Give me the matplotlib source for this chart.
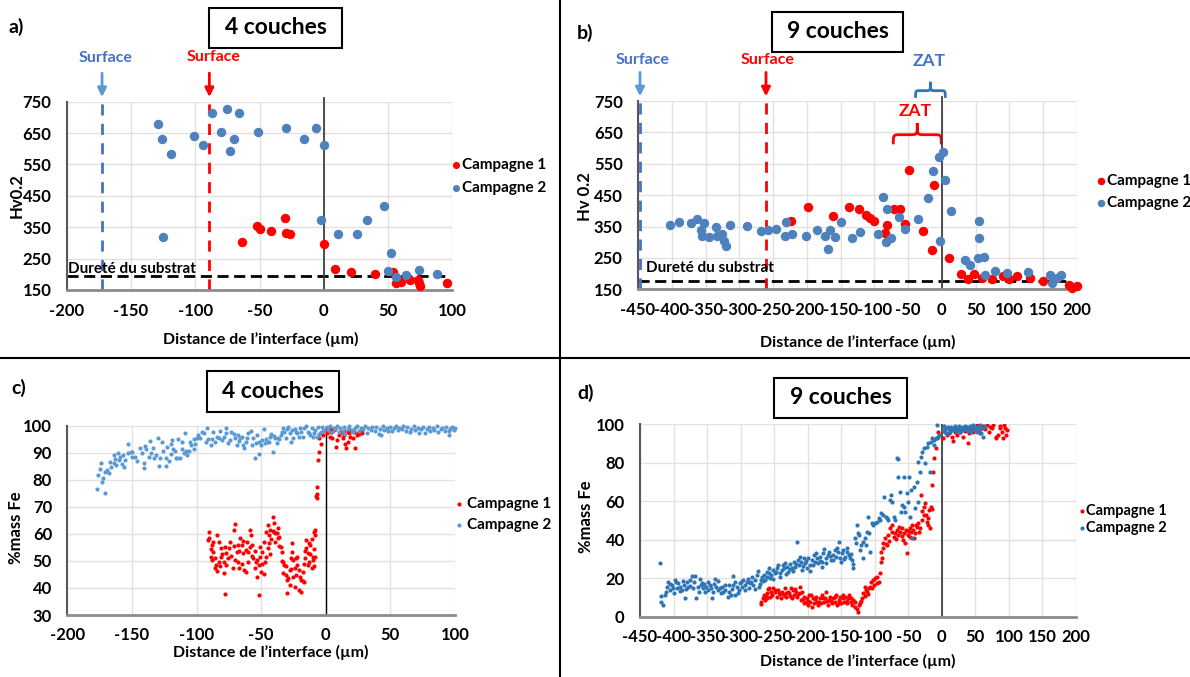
import numpy as np
import matplotlib.pyplot as plt
from matplotlib.patches import Rectangle, PathPatch
from matplotlib.path import Path
from matplotlib.lines import Line2D

plt.rcParams['font.family'] = ['Lato', 'DejaVu Sans']
plt.rcParams['font.weight'] = 'bold'
plt.rcParams['axes.labelweight'] = 'bold'
plt.rcParams['axes.unicode_minus'] = False

RED = '#FF0000'
BLUE_AB = '#4F81BD'
BLUE_C = '#5B9BD5'
BLUE_D = '#2E75B6'

# ---------------- data ----------------
# a) hardness, 4 couches
a_camp1 = np.array([[-64, 302], [-52, 354], [-50, 343], [-41, 338], [-30, 378], [-29, 333], [-26, 327],
                    [0, 296], [9, 216], [21, 208], [40, 201], [54, 208], [56, 171], [60, 177], [67, 182],
                    [73, 182], [74, 171], [75, 163], [96, 173]])
a_camp2 = np.array([[-129, 678], [-126, 631], [-119, 582], [-125, 320], [-101, 641], [-94, 612], [-87, 715],
                    [-75, 726], [-66, 715], [-80, 654], [-73, 593], [-70, 631], [-51, 654], [-29, 665],
                    [-15, 631], [-6, 665], [0, 612], [-2, 373], [11, 328], [26, 328], [34, 373], [47, 417],
                    [52, 267], [50, 212], [56, 192], [64, 198], [74, 214], [88, 200]])

# b) hardness, 9 couches
b_camp1 = np.array([[-224, 369], [-198, 412], [-162, 384], [-138, 412], [-123, 405], [-113, 387], [-107, 377],
                    [-101, 368], [-82, 355], [-71, 405], [-62, 406], [-55, 357], [-49, 529], [-28, 337],
                    [-14, 276], [-11, 481], [11, 249], [28, 198], [39, 182], [47, 199], [59, 185], [74, 182],
                    [90, 193], [99, 182], [111, 193], [131, 185], [150, 177], [188, 164], [193, 153],
                    [200, 161], [-85, 330]])
b_camp2 = np.array([[-403, 355], [-390, 364], [-371, 361], [-362, 373], [-353, 361], [-357, 339], [-355, 320],
                    [-345, 318], [-333, 320], [-334, 348], [-325, 325], [-322, 305], [-319, 289], [-314, 355],
                    [-288, 352], [-268, 337], [-258, 339], [-246, 341], [-231, 366], [-233, 321], [-222, 325],
                    [-201, 321], [-185, 339], [-173, 321], [-166, 339], [-158, 318], [-169, 279], [-149, 364],
                    [-133, 315], [-122, 334], [-94, 325], [-87, 443], [-81, 405], [-83, 302], [-75, 315],
                    [-64, 379], [-55, 341], [-35, 374], [-21, 440], [-13, 528], [-5, 571], [2, 589], [4, 497],
                    [-3, 305], [13, 401], [34, 244], [42, 228], [55, 368], [55, 315], [53, 249], [62, 254],
                    [64, 194], [78, 208], [96, 201], [128, 206], [160, 196], [163, 171], [177, 196], [170, 185]])

# c) %mass Fe, 4 couches
c_camp1 = np.array([
    [-6, 87.3], [-5, 90.4], [-4, 93.1], [-7, 77.4], [-7.5, 74.1], [-6.5, 73.4], [-7, 74.6], [-5, 95.3], [-4, 97.2],
    [1, 97.2], [3, 95.9], [4, 97.8], [5, 95.3], [6, 98.4], [8, 92.2], [9, 94.7], [10, 96.5], [12, 97.8],
    [13, 95.3], [14, 96.5], [15, 93.2], [16, 91.6], [17, 94.1], [18, 97.2], [19, 95.9], [21, 95.3], [22, 97.8],
    [23, 91.6], [24, 96.5], [25, 97.2], [27, 97.8], [28, 98.4], [-1, 98.4], [-2, 96.5], [4, 98.6], [7, 98.8],
    [14, 98.0], [19, 98.4], [26, 96.9], [17, 97.8], [28, 97.2],
    [-90, 60.6], [-90, 58.3], [-91, 57.7], [-88, 55.9], [-87, 53.4], [-89, 51.6], [-88, 50.3], [-85, 48.5],
    [-84, 46.3], [-86, 47.5], [-83, 49.7], [-84, 59.6], [-83, 57.1], [-81, 54.6], [-81, 51.6], [-79, 45.4],
    [-78, 37.9], [-79, 49.7], [-77, 52.8], [-76, 50.9], [-75, 54.6], [-74, 57.1], [-72, 47.2], [-71, 61.4],
    [-70, 63.6], [-69, 53.4], [-68, 49.7], [-67, 47.2], [-66, 58.3], [-65, 55.9], [-64, 52.8], [-63, 46.6],
    [-62, 46.0], [-61, 57.1], [-60, 53.4], [-59, 61.4], [-58, 59.6], [-57, 55.9], [-56, 50.9], [-54, 49.7],
    [-53, 44.2], [-52, 48.5], [-52, 37.4], [-51, 51.6], [-50, 46.0], [-49, 53.4], [-48, 57.1], [-47, 49.7],
    [-46, 60.8], [-45, 63.3], [-45, 54.6], [-44, 59.6], [-43, 61.4], [-41, 66.4], [-40, 63.9], [-40, 60.8],
    [-39, 60.2], [-37, 62.0], [-36, 59.0], [-35, 55.3], [-34, 53.4], [-33, 49.7], [-32, 48.5], [-31, 44.8],
    [-30, 38.0], [-30, 42.9], [-28, 46.6], [-27, 50.9], [-26, 56.5], [-26, 53.4], [-25, 50.3], [-24, 47.2],
    [-23, 44.8], [-22, 48.5], [-22, 51.6], [-21, 39.2], [-19, 38.6], [-19, 42.9], [-18, 46.0], [-17, 42.3],
    [-16, 50.9], [-15, 54.6], [-15, 57.7], [-14, 52.8], [-13, 49.7], [-12, 55.9], [-11, 47.2], [-10, 51.6],
    [-10, 50.3], [-9, 60.8], [-8, 59.6], [-8, 51.6],
    [-89, 54.5], [-87, 57.0], [-86, 51.0], [-82, 48.0], [-80, 52.5], [-78, 55.0], [-77, 48.5], [-73, 52.0],
    [-71, 55.5], [-70, 50.5], [-68, 56.0], [-67, 53.5], [-65, 49.0], [-64, 57.5], [-62, 54.0], [-60, 49.5],
    [-59, 55.0], [-57, 52.0], [-55, 53.5], [-55, 47.5], [-53, 50.5], [-51, 55.0], [-49, 49.0], [-48, 45.0],
    [-46, 51.5], [-44, 56.5], [-43, 52.5], [-42, 58.0], [-41, 61.0], [-39, 57.0], [-38, 60.5], [-37, 58.5],
    [-36, 55.5], [-34, 50.0], [-33, 45.5], [-31, 48.0], [-29, 43.5], [-28, 41.0], [-27, 47.0], [-25, 44.0],
    [-24, 40.5], [-23, 51.0], [-21, 46.5], [-20, 44.0], [-18, 42.5], [-17, 49.0], [-16, 53.5], [-14, 48.5],
    [-13, 56.5], [-12, 52.5], [-11, 58.0], [-9, 54.5], [-9, 48.0], [-8, 61.5]])
c_camp2 = np.array([
    [-177, 76.6], [-171, 75.1], [-173, 79.0], [-176, 81.6], [-174, 86.3], [-172, 80.8], [-171, 83.0],
    [-169, 83.5], [-168, 82.4], [-166, 84.6], [-164, 89.2], [-163, 87.6], [-164, 86.1], [-162, 85.5],
    [-160, 87.2], [-159, 88.5], [-157, 89.2], [-156, 84.8], [-155, 87.3], [-153, 93.2], [-153, 89.8],
    [-151, 90.4], [-150, 90.4], [-150, 88.3], [-148, 88.3], [-144, 91.6], [-142, 89.8], [-141, 84.5],
    [-141, 86.1], [-139, 91.2], [-137, 88.5], [-136, 94.3], [-135, 89.8], [-133, 87.9], [-130, 95.3],
    [-129, 85.1], [-128, 87.9], [-126, 90.6], [-124, 85.1], [-124, 87.9], [-123, 92.0], [-120, 93.1],
    [-120, 89.5], [-119, 94.7], [-117, 90.6], [-116, 88.2], [-115, 88.2], [-113, 88.2], [-111, 94.1],
    [-111, 91.4], [-109, 97.2], [-108, 90.6], [-107, 89.2], [-106, 90.6], [-104, 92.9], [-102, 91.4],
    [-102, 95.1], [-100, 95.3], [-99, 96.5], [-97, 95.6], [-94, 97.2], [-92, 99.3], [-91, 94.9], [-89, 92.9],
    [-88, 94.9], [-86, 94.1], [-84, 95.9], [-83, 95.3], [-80, 94.7], [-77, 97.2], [-77, 99.3], [-76, 93.5],
    [-74, 94.7], [-71, 96.8], [-70, 95.3], [-68, 96.5], [-67, 94.5], [-66, 95.3], [-64, 92.9], [-63, 91.9],
    [-62, 94.1], [-60, 97.2], [-58, 98.0], [-56, 95.3], [-55, 88.2], [-54, 93.5], [-52, 89.5], [-52, 94.1],
    [-50, 92.9], [-49, 94.7], [-48, 98.8], [-47, 93.5], [-45, 93.9], [-44, 94.1], [-43, 95.9], [-41, 90.4],
    [-40, 96.3], [-39, 95.3], [-37, 95.3], [-36, 94.9], [-35, 96.5], [-33, 99.0], [-32, 97.8], [-30, 98.6],
    [-28, 97.2], [-27, 94.1], [-26, 98.3], [-25, 95.3], [-23, 97.8], [-22, 97.2], [-21, 95.9], [-19, 97.8],
    [-17, 99.3], [-15, 100], [-14, 97.8], [-13, 97.2], [-12, 96.5], [-10, 95.9], [-9, 97.2], [-8, 98.3],
    [-6, 99.4], [-5, 96.8], [-4, 97.8], [-1, 98.3],
    [-175, 84.0], [-167, 86.5], [-161, 90.0], [-158, 86.0], [-146, 87.0], [-140, 92.5], [-134, 91.8],
    [-131, 89.0], [-127, 93.8], [-121, 86.8], [-118, 91.5], [-114, 95.0], [-110, 89.8], [-105, 94.0],
    [-101, 93.2], [-96, 97.8], [-93, 93.8], [-87, 97.5], [-82, 98.2], [-79, 95.8], [-73, 97.5], [-69, 93.0],
    [-65, 96.0], [-61, 95.5], [-57, 93.0], [-53, 96.5], [-46, 95.0], [-42, 97.0], [-38, 93.5], [-34, 97.5],
    [-31, 95.5], [-29, 99.5], [-24, 98.8], [-20, 99.0], [-18, 96.0], [-11, 99.0], [-7, 96.0], [-3, 99.5],
    [1, 99.5], [2, 98.3], [3, 99.8], [5, 97.8], [6, 99.2], [7, 98.6], [9, 100], [10, 97.5], [11, 99.0],
    [13, 98.2], [14, 99.6], [15, 97.0], [17, 98.8], [18, 99.8], [20, 98.4], [21, 97.6], [23, 99.3], [24, 100],
    [26, 98.0], [27, 99.1], [29, 98.6], [30, 99.8], [32, 97.3], [33, 99.0], [35, 98.5], [36, 99.7], [38, 98.1],
    [39, 99.4], [41, 96.8], [42, 98.9], [44, 99.9], [45, 98.3], [47, 99.2], [48, 98.0], [50, 99.6], [51, 97.9],
    [53, 99.0], [54, 100], [56, 98.4], [57, 99.3], [59, 98.7], [60, 99.9], [62, 98.2], [63, 99.5], [65, 97.7],
    [66, 98.9], [68, 99.8], [69, 98.3], [71, 99.1], [72, 97.4], [74, 98.6], [75, 99.7], [77, 97.2], [78, 98.8],
    [80, 99.4], [81, 97.9], [83, 99.0], [84, 98.3], [86, 99.8], [87, 97.5], [89, 98.7], [90, 99.3], [92, 98.1],
    [93, 99.6], [95, 97.9], [96, 98.8], [98, 99.5], [99, 98.4], [100, 99.2], [95, 96.5], [43, 96.6]])

# d) %mass Fe, 9 couches
d_camp1 = np.array([
    [-270, 6.4], [-269, 7.8], [-267, 9.9], [-265, 11.3], [-264, 8.7], [-261, 12.1], [-260, 9.5], [-259, 14.4],
    [-256, 10.4], [-255, 13.0], [-253, 11.3], [-251, 15.1], [-249, 12.7], [-246, 10.4], [-245, 13.9],
    [-243, 12.1], [-240, 9.5], [-239, 13.0], [-236, 11.3], [-234, 14.7], [-232, 10.4], [-230, 13.0],
    [-228, 12.1], [-225, 15.1], [-224, 9.9], [-222, 13.9], [-220, 11.3], [-218, 13.0], [-216, 10.4],
    [-214, 11.6], [-211, 15.6], [-210, 8.7], [-208, 13.0], [-206, 6.9], [-205, 10.4], [-203, 7.8], [-201, 9.5],
    [-200, 6.1], [-198, 11.3], [-196, 7.8], [-194, 5.2], [-192, 9.5], [-190, 6.9], [-188, 10.4], [-186, 7.8],
    [-184, 6.1], [-182, 9.5], [-180, 6.9], [-178, 11.3], [-176, 7.8], [-174, 9.5], [-172, 13.0], [-170, 6.1],
    [-168, 8.7], [-166, 10.4], [-164, 6.9], [-162, 9.5], [-160, 7.8], [-158, 11.3], [-156, 6.1], [-154, 8.7],
    [-152, 10.4], [-150, 6.9], [-148, 9.5], [-146, 7.8], [-144, 10.4], [-142, 6.9], [-140, 9.5], [-138, 11.3],
    [-136, 7.8], [-134, 6.1], [-132, 8.7], [-129, 5.2], [-127, 4.0], [-125, 2.6], [-124, 6.1], [-122, 6.9],
    [-119, 9.5], [-117, 12.1], [-115, 10.9], [-113, 13.9], [-111, 13.0], [-109, 14.7], [-107, 15.6],
    [-105, 18.2], [-103, 19.1], [-101, 16.5], [-99, 20.0], [-97, 17.3], [-94, 18.2], [-92, 22.5], [-91, 28.6],
    [-90, 33.8], [-88, 35.5], [-87, 38.1], [-85, 40.7], [-82, 37.3], [-80, 42.5], [-77, 45.9], [-75, 44.2],
    [-72, 41.6], [-70, 43.3], [-67, 45.1], [-65, 42.5], [-62, 44.2], [-60, 45.9], [-58, 39.9], [-56, 43.3],
    [-54, 45.1], [-52, 32.9], [-50, 42.5], [-48, 45.9], [-46, 44.2], [-44, 47.7], [-42, 40.7], [-40, 43.3],
    [-37, 46.8], [-35, 48.5], [-32, 45.9], [-31, 63.3], [-29, 50.3], [-27, 57.2], [-25, 58.9], [-23, 52.9],
    [-22, 49.4], [-20, 51.1], [-18, 45.9], [-16, 57.2], [-14, 68.5], [-13, 75.4], [-11, 82.3], [-9, 87.5],
    [-7, 92.7], [-5, 96.2],
    [-262, 11.0], [-257, 15.0], [-248, 14.0], [-241, 11.8], [-233, 12.5], [-226, 10.8], [-219, 14.6],
    [-212, 12.4], [-207, 9.0], [-199, 8.2], [-195, 11.5], [-189, 9.0], [-183, 7.6], [-177, 9.8], [-171, 8.4],
    [-165, 8.0], [-159, 10.2], [-153, 7.2], [-147, 11.2], [-141, 8.2], [-135, 9.8], [-130, 7.4], [-121, 8.4],
    [-114, 15.6], [-110, 11.6], [-104, 14.8], [-96, 20.6], [-89, 30.5], [-84, 37.8], [-79, 39.5], [-74, 47.5],
    [-69, 40.5], [-64, 46.5], [-59, 42.0], [-55, 38.5], [-51, 44.5], [-47, 41.5], [-43, 45.0], [-39, 47.5],
    [-34, 44.0], [-30, 55.0], [-26, 53.0], [-21, 47.5], [-19, 55.5], [-15, 56.0],
    [1, 92.7], [2.5, 97], [5, 96.2], [7.5, 94.5], [10, 95.3], [12, 97], [15, 93.6], [17, 91.3], [20, 95.8],
    [22, 94.5], [25, 97], [27, 96.2], [30, 97.9], [32, 93.6], [35, 96.5], [37, 98.3], [39, 90.1], [41, 95.3],
    [43, 97], [45, 98.8], [47, 96.2], [50, 97.9], [52, 99.7], [55, 97], [57, 95.3], [60, 98.3], [62, 99.3],
    [65, 97.6], [67, 99.7], [70, 96.2], [72, 98.8], [75, 97.9], [77, 99.7], [80, 93.6], [81, 92.7], [84, 94.5],
    [86, 98.3], [87, 99.3], [90, 96.2], [91, 93.1], [94, 97.9], [95, 94.5], [92, 99.7], [97, 96.8]])
d_camp2 = np.array([
    [-420, 27.7], [-419, 7.8], [-415, 6.1], [-413, 11.3], [-410, 15.6], [-408, 18.2], [-405, 13.9],
    [-403, 16.5], [-400, 12.1], [-398, 19.1], [-395, 14.7], [-393, 17.3], [-390, 15.6], [-388, 13.9],
    [-385, 16.5], [-383, 9.9], [-380, 18.2], [-378, 15.6], [-375, 19.1], [-373, 21.3], [-371, 14.7],
    [-368, 21.1], [-366, 9.9], [-364, 15.6], [-362, 13.0], [-359, 16.5], [-357, 17.3], [-356, 14.7],
    [-353, 13.0], [-351, 15.6], [-348, 18.2], [-346, 16.5], [-343, 9.9], [-341, 13.0], [-338, 19.6],
    [-336, 15.6], [-333, 13.9], [-331, 14.7], [-328, 15.6], [-326, 13.0], [-323, 16.5], [-319, 10.4],
    [-317, 13.0], [-314, 11.3], [-312, 21.3], [-311, 16.5], [-308, 11.3], [-306, 15.2], [-303, 13.9],
    [-301, 17.3], [-298, 15.6], [-296, 19.1], [-293, 16.5], [-291, 18.2], [-288, 14.7], [-286, 17.3],
    [-283, 20.8], [-281, 16.5], [-278, 19.1], [-274, 23.9], [-273, 15.6], [-270, 19.1], [-268, 20.8],
    [-265, 21.7], [-263, 19.1], [-260, 23.4], [-258, 25.1], [-256, 19.9], [-254, 21.7], [-251, 24.3],
    [-249, 22.5], [-246, 25.1], [-244, 26.9], [-241, 22.5], [-239, 24.3], [-236, 25.1], [-234, 27.7],
    [-231, 26.0], [-229, 23.4], [-226, 27.2], [-224, 25.1], [-221, 28.6], [-219, 26.0], [-216, 39.0],
    [-215, 29.5], [-213, 26.9], [-210, 28.6], [-208, 24.3], [-206, 30.3], [-204, 27.7], [-201, 25.1],
    [-199, 30.3], [-196, 26.9], [-194, 29.5], [-191, 32.1], [-189, 28.6], [-186, 30.3], [-184, 27.7],
    [-181, 31.2], [-179, 28.6], [-177, 32.9], [-175, 35.2], [-173, 30.3], [-170, 32.1], [-168, 33.8],
    [-165, 29.5], [-163, 32.1], [-160, 34.7], [-158, 31.2], [-155, 33.8], [-154, 39.0], [-152, 30.3],
    [-149, 32.9], [-147, 34.7], [-144, 31.2], [-142, 33.8], [-139, 32.1], [-137, 30.3], [-134, 29.5],
    [-132, 25.1],
    [-418, 10.5], [-411, 13.0], [-406, 17.0], [-401, 15.0], [-396, 17.8], [-391, 13.2], [-386, 18.8],
    [-381, 14.3], [-376, 16.0], [-369, 17.8], [-361, 19.8], [-354, 17.2], [-349, 13.8], [-344, 15.0],
    [-339, 17.0], [-334, 18.4], [-329, 12.2], [-324, 14.0], [-318, 16.5], [-313, 14.2], [-309, 18.0],
    [-304, 12.5], [-299, 17.8], [-294, 14.0], [-289, 19.5], [-284, 17.8], [-279, 14.3], [-276, 21.5],
    [-271, 17.0], [-266, 18.5], [-261, 20.5], [-257, 22.8], [-252, 19.5], [-247, 23.0], [-242, 20.8],
    [-237, 27.0], [-232, 22.0], [-227, 24.8], [-222, 23.5], [-217, 27.5], [-212, 31.0], [-207, 26.5],
    [-202, 29.0], [-197, 24.0], [-192, 27.0], [-187, 33.0], [-182, 29.0], [-178, 26.0], [-172, 28.0],
    [-167, 31.5], [-162, 29.5], [-157, 35.5], [-151, 28.5], [-146, 30.0], [-141, 35.5], [-136, 32.5],
    [-133, 27.5],
    [-130, 40.7], [-128, 38.1], [-126, 47.7], [-125, 43.3], [-123, 42.5], [-122, 34.7], [-120, 37.3],
    [-118, 30.3], [-117, 39.0], [-115, 40.7], [-113, 37.3], [-112, 44.2], [-110, 52.0], [-108, 43.3],
    [-107, 33.8], [-104, 48.5], [-102, 47.7], [-99, 48.5], [-97, 49.4], [-94, 51.1], [-92, 50.3], [-90, 53.7],
    [-87, 52.9], [-86, 62.4], [-84, 52.0], [-82, 51.1], [-80, 50.3], [-77, 60.7], [-76, 63.3], [-74, 59.8],
    [-72, 52.0], [-70, 50.3], [-67, 82.3], [-65, 82.0], [-66, 72.8], [-63, 65.0], [-61, 54.6], [-59, 58.1],
    [-57, 57.2], [-56, 72.8], [-55, 54.6], [-52, 64.1], [-51, 59.8], [-49, 72.8], [-47, 52.0], [-46, 65.9],
    [-44, 40.7], [-42, 67.6], [-40, 56.3], [-37, 70.2], [-36, 59.8], [-35, 80.6], [-32, 75.4], [-31, 83.2],
    [-30, 85.8], [-27, 87.5], [-25, 79.7], [-22, 88.4], [-20, 90.1], [-18, 75.4], [-16, 91.0], [-15, 92.7],
    [-12, 89.3], [-11, 91.9], [-9, 92.7], [-7, 99.7], [-6, 93.6], [-4, 94.5],
    [1, 97], [2.5, 99.3], [4, 96.2], [6, 97.9], [7.5, 94.8], [9, 98.8], [11, 97.6], [12.5, 95.8], [14, 98.6],
    [16, 97.1], [17.5, 97.9], [19, 99.3], [21, 96.5], [22.5, 98.3], [24, 97.2], [26, 99], [27.5, 96.2],
    [29, 97.9], [31, 98.6], [32, 96.9], [34, 99.3], [36, 97.6], [37, 98.6], [39, 96.5], [41, 97.9], [42, 99],
    [44, 95.8], [46, 97.9], [47, 99.7], [49, 97.2], [51, 98.3], [52, 96.2], [54, 98.8], [56, 97.6], [57, 99.7],
    [59, 95.3], [61, 93.6], [62, 97.9], [64, 99.3]])

# reference lines
a_surface = (-172.5, -89)      # campagne 2, campagne 1
b_surface = (-447, -260.5)
a_substrat = 196
b_substrat = 177

W, H = 1190, 677
fig = plt.figure(figsize=(W / 100, H / 100), dpi=100)


def px_axes(l, t, r, b):
    return fig.add_axes([l / W, 1 - b / H, (r - l) / W, (b - t) / H])


def style(ax, xlim, ylim, xstep, ystep, ylab, ylab_x, ylab_y, xlab_x, xlab_y):
    ax.set_xlim(xlim)
    ax.set_ylim(ylim)
    ax.set_xticks(np.arange(xlim[0], xlim[1] + 1, xstep))
    ax.set_yticks(np.arange(ylim[0], ylim[1] + 1, ystep))
    ax.grid(True, color='#e2e2e2', lw=1)
    ax.set_axisbelow(True)
    for s in ['top', 'right']:
        ax.spines[s].set_visible(False)
    ax.spines['left'].set_color('#595959')
    ax.spines['left'].set_linewidth(1.5)
    ax.spines['bottom'].set_color('#8c8c8c')
    ax.spines['bottom'].set_linewidth(2)
    ax.tick_params(axis='x', length=0, labelsize=12, pad=9)
    ax.tick_params(axis='y', length=0, labelsize=12, pad=11)
    ax.set_xlabel('Distance de l\u2019interface (\u00b5m)', fontsize=11.5)
    ax.xaxis.set_label_coords(xlab_x, xlab_y)
    ax.xaxis.label.set_va('center')
    ax.set_ylabel(ylab, fontsize=12)
    ax.yaxis.set_label_coords(ylab_x, ylab_y)
    ax.yaxis.label.set_va('center')


def brace(ax, x0, x1, yb, yt, color):
    xm = (x0 + x1) / 2
    ym = yb + (yt - yb) * 0.45
    q = (x1 - x0) * 0.15
    verts = [(x0, yb), (x0, ym), (x0, ym), (x0 + q, ym), (xm - q, ym),
             (xm, ym), (xm, ym), (xm, yt), (xm, ym), (xm, ym), (xm + q, ym),
             (x1 - q, ym), (x1, ym), (x1, ym), (x1, yb)]
    codes = [Path.MOVETO, Path.CURVE4, Path.CURVE4, Path.CURVE4, Path.LINETO,
             Path.CURVE4, Path.CURVE4, Path.CURVE4, Path.CURVE4, Path.CURVE4, Path.CURVE4,
             Path.LINETO, Path.CURVE4, Path.CURVE4, Path.CURVE4]
    ax.add_patch(PathPatch(Path(verts, codes), fill=False, ec=color, lw=2, clip_on=False))


def surface(ax, x, color, tcolor, ytext, ytop):
    ax.annotate('', xy=(x, ytop + 6), xytext=(x, ytop + 100),
                arrowprops=dict(arrowstyle='-|>', color=color, lw=2, mutation_scale=13),
                annotation_clip=False)
    ax.text(x + 3, ytext, 'Surface', color=tcolor, ha='center', va='center', fontsize=11.5,
            clip_on=False)


def title_box(l, t, r, b, txt):
    fig.add_artist(Rectangle((l / W, 1 - b / H), (r - l) / W, (b - t) / H,
                             transform=fig.transFigure, fill=False, ec='black', lw=1.5))
    fig.text((l + r) / 2 / W, 1 - (t + b) / 2 / H, txt, ha='center', va='center', fontsize=16.5)


# ---------------- a) ----------------
ax = px_axes(66.7, 101.7, 452.3, 290)
style(ax, (-200, 100), (150, 750), 50, 100, 'Hv0.2', -0.131, 0.5, 0.503, -0.265)
ax.plot([-200, 97], [a_substrat, a_substrat], color='black', lw=2, ls=(0, (4, 2)))
ax.text(-199, 218, 'Dureté du substrat', fontsize=11, va='center', ha='left')
ax.plot([a_surface[0]] * 2, [150, 750], color='#4472C4', lw=2, ls=(0, (4, 3)))
ax.plot([a_surface[1]] * 2, [150, 750], color=RED, lw=2, ls=(0, (4, 3)))
ax.axvline(0, ymin=0, ymax=1.02, color='#404040', lw=1.3, clip_on=False)
ax.scatter(a_camp1[:, 0], a_camp1[:, 1], s=46, color=RED, lw=0, label='Campagne 1', zorder=3)
ax.scatter(a_camp2[:, 0], a_camp2[:, 1], s=46, color=BLUE_AB, lw=0, label='Campagne 2', zorder=3)
surface(ax, a_surface[0], '#5B9BD5', '#4472C4', 889, 750)
surface(ax, a_surface[1], RED, RED, 891, 750)
ax.legend(loc='upper left', bbox_to_anchor=(451 / W, 1 - 158 / H), bbox_transform=fig.transFigure,
          frameon=False, fontsize=11, borderpad=0, borderaxespad=0, handlelength=0.6,
          handletextpad=0.15, labelspacing=0.6, markerscale=0.75)

# ---------------- b) ----------------
ax = px_axes(638, 101, 1077, 289.3)
style(ax, (-450, 200), (150, 750), 50, 100, 'Hv 0.2', -0.121, 0.49, 0.5, -0.28)
ax.plot([-450, 188], [b_substrat, b_substrat], color='black', lw=2, ls=(0, (4, 2)))
ax.text(-438, 219, 'Dureté du substrat', fontsize=11, va='center', ha='left')
ax.plot([b_surface[0]] * 2, [150, 750], color='#4472C4', lw=2, ls=(0, (4, 3)))
ax.plot([b_surface[1]] * 2, [150, 750], color=RED, lw=2, ls=(0, (4, 3)))
ax.axvline(0, ymin=0, ymax=1.02, color='#404040', lw=1.3, clip_on=False)
ax.scatter(b_camp1[:, 0], b_camp1[:, 1], s=46, color=RED, lw=0, label='Campagne 1', zorder=3,
           clip_on=False)
ax.scatter(b_camp2[:, 0], b_camp2[:, 1], s=46, color=BLUE_AB, lw=0, label='Campagne 2', zorder=3,
           clip_on=False)
surface(ax, b_surface[0], '#5B9BD5', '#4472C4', 882, 750)
surface(ax, b_surface[1], RED, RED, 882, 750)
brace(ax, -72, -1, 612, 680, RED)
ax.text(-39, 719, 'ZAT', color=RED, fontsize=12.5, ha='center', va='center')
brace(ax, -39, 5, 760, 811, BLUE_D)
ax.text(-19, 877, 'ZAT', color='#4472C4', fontsize=12.5, ha='center', va='center', clip_on=False)
ax.legend(loc='upper left', bbox_to_anchor=(1096 / W, 1 - 174 / H), bbox_transform=fig.transFigure,
          frameon=False, fontsize=11, borderpad=0, borderaxespad=0, handlelength=0.6,
          handletextpad=0.15, labelspacing=0.5, markerscale=0.8)

# ---------------- c) ----------------
ax = px_axes(67.3, 425.7, 455, 615)
style(ax, (-200, 100), (30, 100), 50, 10, '%mass Fe', -0.132, 0.46, 0.524, -0.2)
ax.axvline(0, color='black', lw=1)
ax.scatter(c_camp1[:, 0], c_camp1[:, 1], s=9, color=RED, lw=0, label='Campagne 1', zorder=3)
ax.scatter(c_camp2[:, 0], c_camp2[:, 1], s=9, color=BLUE_C, lw=0, label='Campagne 2', zorder=3,
           clip_on=False)
ax.legend(loc='upper left', bbox_to_anchor=(456 / W, 1 - 497 / H), bbox_transform=fig.transFigure,
          frameon=False, fontsize=11, borderpad=0, borderaxespad=0, handlelength=0.4,
          handletextpad=0.3, labelspacing=0.45, markerscale=1.0)

# ---------------- d) ----------------
ax = px_axes(640, 424.3, 1076, 616.7)
style(ax, (-450, 200), (0, 100), 50, 20, '%mass Fe', -0.124, 0.52, 0.5, -0.232)
ax.axvline(0, color='#333333', lw=1.2)
ax.scatter(d_camp1[:, 0], d_camp1[:, 1], s=9, color=RED, lw=0, label='Campagne 1', zorder=3)
ax.scatter(d_camp2[:, 0], d_camp2[:, 1], s=9, color=BLUE_D, lw=0, label='Campagne 2', zorder=3,
           clip_on=False)
ax.legend(loc='upper left', bbox_to_anchor=(1080 / W, 1 - 504 / H), bbox_transform=fig.transFigure,
          frameon=False, fontsize=10.5, borderpad=0, borderaxespad=0, handlelength=0.3,
          handletextpad=0.1, labelspacing=0.2, markerscale=1.0)

# ---------------- frame, titles, letters ----------------
title_box(209, 8, 342, 48, '4 couches')
title_box(772, 12, 903, 52, '9 couches')
title_box(207, 371, 339, 412, '4 couches')
title_box(774, 378, 907, 418, '9 couches')
fig.text(16 / W, 1 - 27 / H, 'a)', fontsize=14, ha='center', va='center')
fig.text(585 / W, 1 - 33 / H, 'b)', fontsize=14, ha='center', va='center')
fig.text(19 / W, 1 - 388 / H, 'c)', fontsize=14, ha='center', va='center')
fig.text(586 / W, 1 - 393 / H, 'd)', fontsize=14, ha='center', va='center')

fig.add_artist(Line2D([559.5 / W, 559.5 / W], [0, 1], transform=fig.transFigure, color='black', lw=1.5))
fig.add_artist(Line2D([0, 1], [1 - 358 / H, 1 - 358 / H], transform=fig.transFigure, color='black', lw=1.5))

fig.savefig('out.png', dpi=100)
